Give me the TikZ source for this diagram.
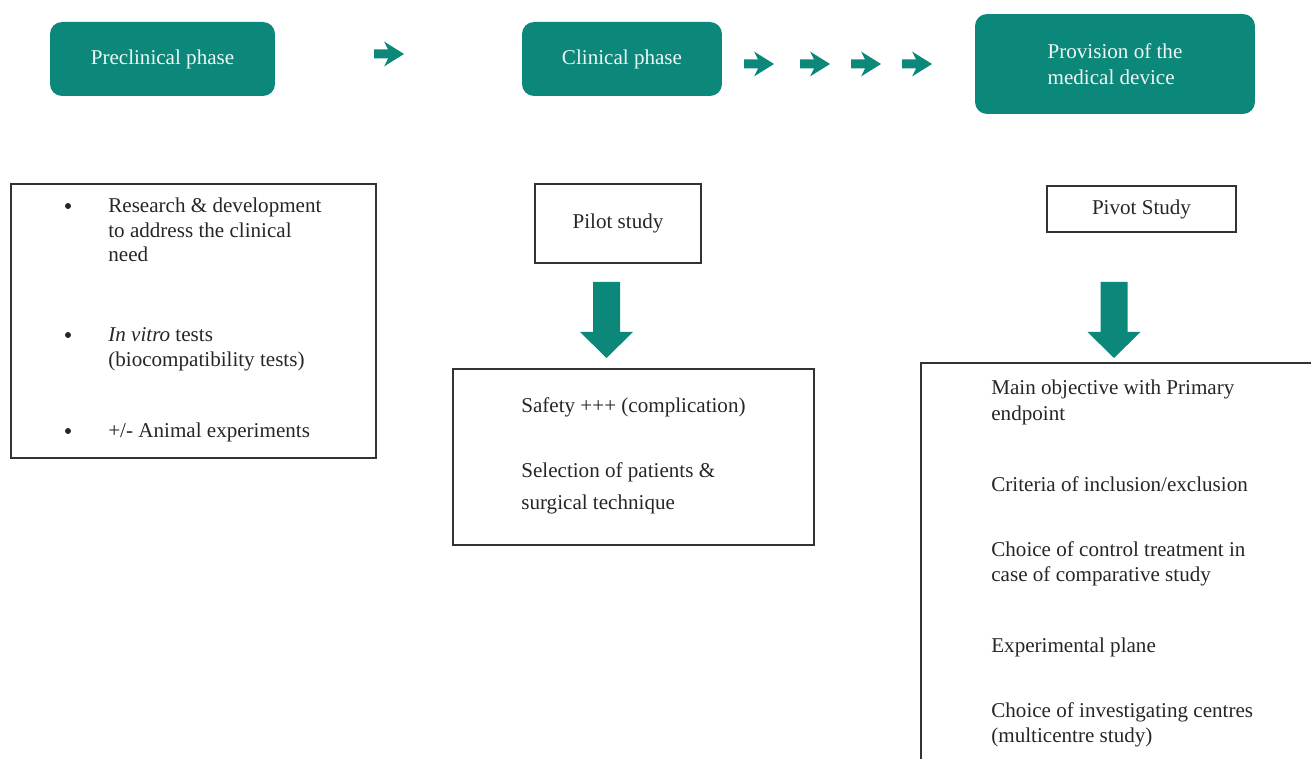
\documentclass[tikz,border=0pt]{standalone}
\usepackage{fontspec}
\setmainfont{Liberation Serif}

\definecolor{phaseteal}{RGB}{12,136,122}
\definecolor{boxline}{RGB}{51,51,51}

\tikzset{
  phase/.style={fill=phaseteal, rounded corners=0.24cm, inner sep=0pt,
    text=white!93!phaseteal, align=left, font=\fontsize{12}{14.5}\selectfont},
  frame/.style={draw=boxline, line width=0.7pt, inner sep=0pt},
  txt/.style={anchor=base west, inner sep=0pt, text=black!85,
    font=\fontsize{12}{14.5}\selectfont},
  dot/.style={circle, fill=black!85, inner sep=0pt, minimum size=0.12cm},
  rarr/.pic={\fill[phaseteal] (-16,-4.5) -- (-2,-4.5) -- (-6,-12.5) -- (14,0)
    -- (-6,12.5) -- (-2,4.5) -- (-16,4.5) -- cycle;},
  darr/.pic={\fill[phaseteal] (-13.5,-38) -- (13.5,-38) -- (13.5,12) -- (26.5,12)
    -- (0,38) -- (-26.5,12) -- (-13.5,12) -- cycle;},
}

\begin{document}
\begin{tikzpicture}[x=0.02cm, y=-0.02cm]
    \useasboundingbox (0,0) rectangle (1311,759);
    \clip (0,0) rectangle (1311,759);

    % phases
    \node[phase, minimum width=4.5cm, minimum height=1.48cm] (pre) at (162.5,59) {Preclinical phase};
    \node[phase, minimum width=4cm, minimum height=1.48cm] (clin) at (622,59) {Clinical phase};
    \node[phase, minimum width=5.6cm, minimum height=2cm] (prov) at (1115,64) {Provision of the\\medical device};

    \pic at (390,54) {rarr};
    \pic at (760,64) {rarr};
    \pic at (816,64) {rarr};
    \pic at (867,64) {rarr};
    \pic at (918,64) {rarr};

    % preclinical
    \node[frame, minimum width=7.3cm, minimum height=5.48cm] (prebox) at (193.5,321) {};
    \node[dot] (b1) at (68,206) {};
    \node[txt] (t1) at (108,213) {Research \& development};
    \node[txt] (t2) at (108,238) {to address the clinical};
    \node[txt] (t3) at (108,262) {need};
    \node[dot] (b2) at (68,335) {};
    \node[txt] (t4) at (108,342) {\textit{In vitro} tests};
    \node[txt] (t5) at (108,367) {(biocompatibility tests)};
    \node[dot] (b3) at (68,431) {};
    \node[txt] (t6) at (108,438) {+/- Animal experiments};

    % clinical
    \node[frame, minimum width=3.32cm, minimum height=1.58cm, txt, anchor=center] (pilot) at (618,223.5) {Pilot study};
    \pic at (606.5,320) {darr};
    \node[frame, minimum width=7.22cm, minimum height=3.52cm] (pilotbox) at (633.5,457) {};
    \node[txt] (s1) at (521,413) {Safety +++ (complication)};
    \node[txt] (s2) at (521,478) {Selection of patients \&};
    \node[txt] (s3) at (521,510) {surgical technique};

    % provision
    \node[frame, minimum width=3.78cm, minimum height=0.92cm, txt, anchor=center] (pivot) at (1141.5,209) {Pivot Study};
    \pic at (1114,320) {darr};
    \node[frame, minimum width=8.4cm, minimum height=8.4cm] (pivotbox) at (1131,573) {};
    \node[txt] (p1) at (991,395) {Main objective with Primary};
    \node[txt] (p2) at (991,421) {endpoint};
    \node[txt] (p3) at (991,492) {Criteria of inclusion/exclusion};
    \node[txt] (p4) at (991,557) {Choice of control treatment in};
    \node[txt] (p5) at (991,582) {case of comparative study};
    \node[txt] (p6) at (991,652) {Experimental plane};
    \node[txt] (p7) at (991,717) {Choice of investigating centres};
    \node[txt] (p8) at (991,742) {(multicentre study)};
\end{tikzpicture}
\end{document}
